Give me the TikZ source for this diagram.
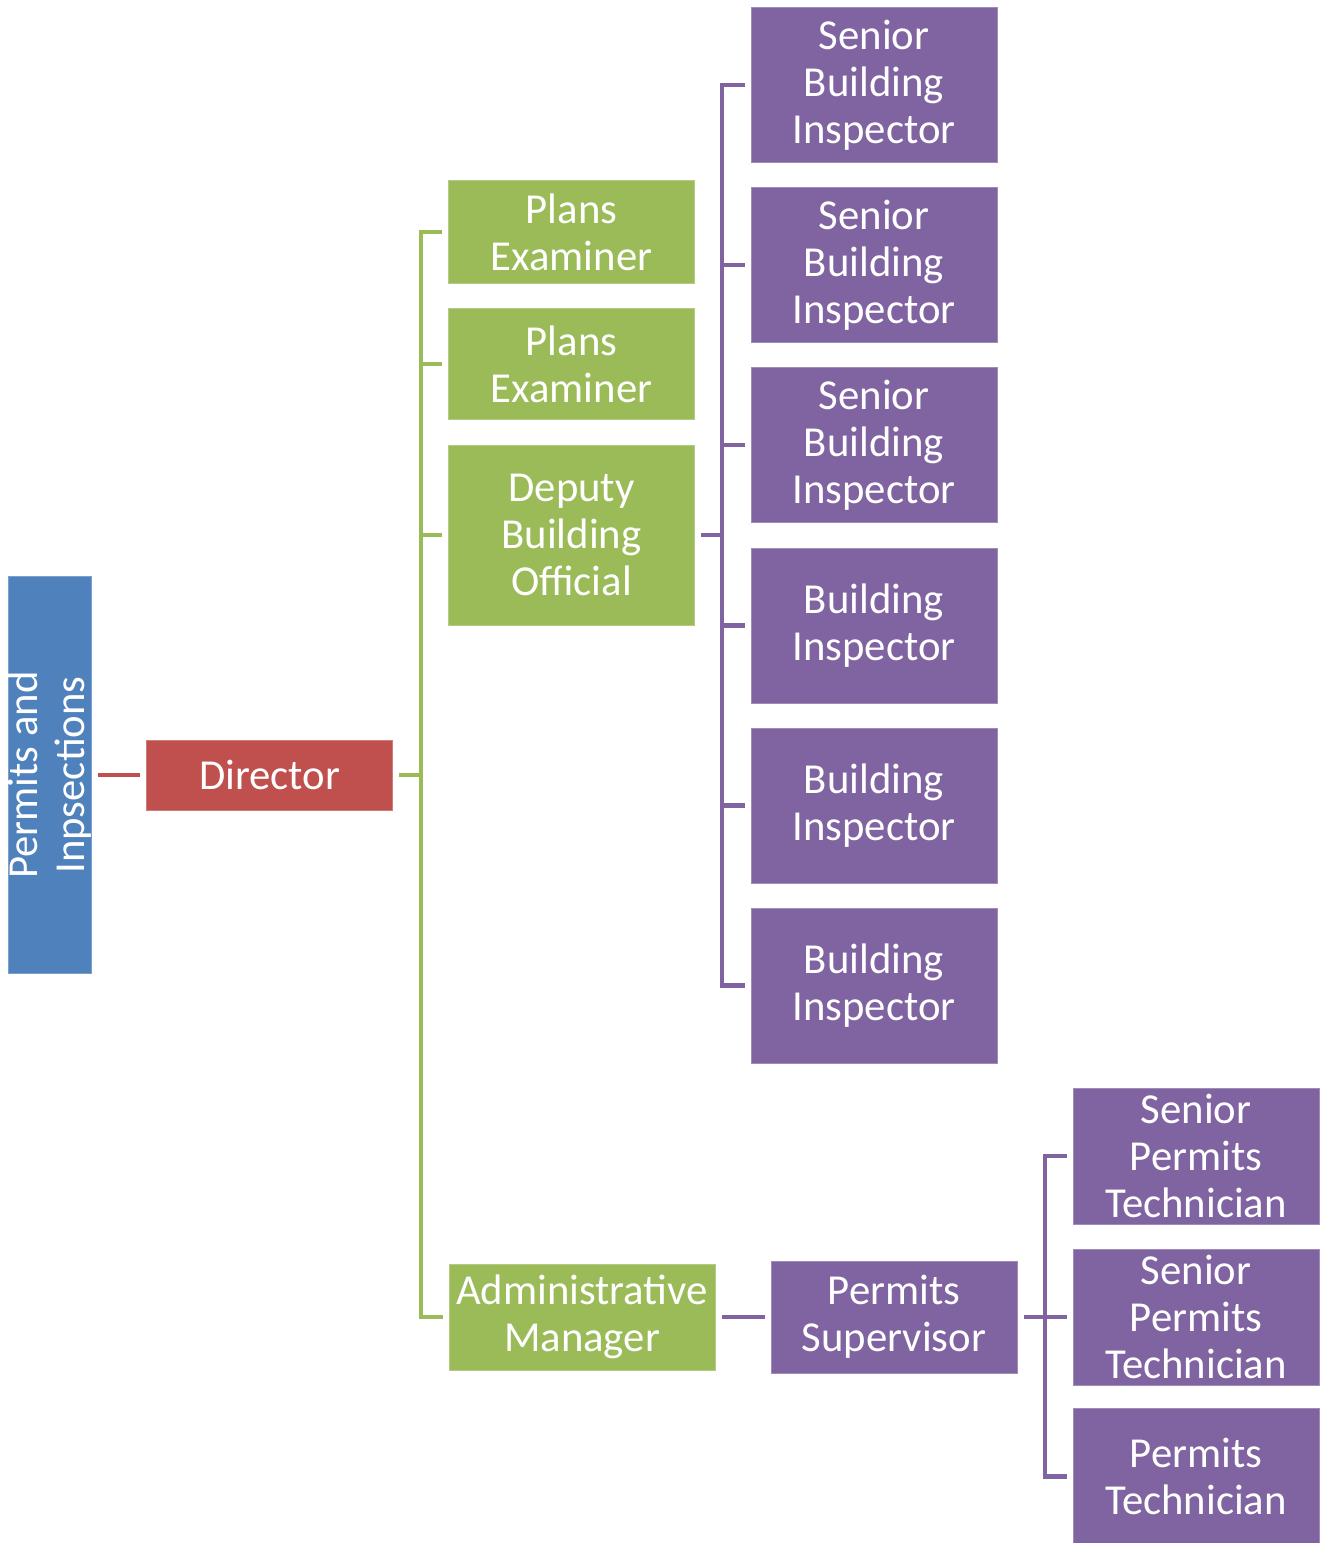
\documentclass[tikz,border=0pt]{standalone}
\usepackage{fontspec}
\setmainfont{Carlito}
\definecolor{cblue}{HTML}{4F81BD}
\definecolor{cred}{HTML}{C0504D}
\definecolor{cgreen}{HTML}{9BBB59}
\definecolor{cpurple}{HTML}{8064A2}
\begin{document}
\begin{tikzpicture}[x=1pt,y=-1pt,
  box/.style={draw=#1!75!white, line width=1pt, fill=#1, text=white, inner sep=0pt, align=center,
    font=\fontsize{42.7}{47}\selectfont},
  conn/.style={draw=#1, line width=4.6pt},
]
\useasboundingbox (0,0) rectangle (1325,1543);
% nodes
\node[box=cblue, rotate=90, minimum width=397pt, minimum height=80pt] (pi) at (50,775) {Permits and\\Inpsections};
\node[box=cred, minimum width=246pt, minimum height=70pt] (dir) at (269.5,775) {Director};
\node[box=cgreen, minimum width=246pt, minimum height=103pt] (pe1) at (571.5,232) {Plans\\Examiner};
\node[box=cgreen, minimum width=246pt, minimum height=111pt] (pe2) at (571.5,364) {Plans\\Examiner};
\node[box=cgreen, minimum width=246pt, minimum height=180pt] (dep) at (571.5,535) {Deputy\\Building\\Official};
\node[box=cgreen, minimum width=266pt, minimum height=106pt] (adm) at (582,1317) {Administrative\\Manager};
\node[box=cpurple, minimum width=246pt, minimum height=155pt] (b1) at (874,85) {Senior\\Building\\Inspector};
\node[box=cpurple, minimum width=246pt, minimum height=155pt] (b2) at (874,265) {Senior\\Building\\Inspector};
\node[box=cpurple, minimum width=246pt, minimum height=155pt] (b3) at (874,445) {Senior\\Building\\Inspector};
\node[box=cpurple, minimum width=246pt, minimum height=155pt] (b4) at (874,625.5) {Building\\Inspector};
\node[box=cpurple, minimum width=246pt, minimum height=155pt] (b5) at (874,805.5) {Building\\Inspector};
\node[box=cpurple, minimum width=246pt, minimum height=155pt] (b6) at (874,985.5) {Building\\Inspector};
\node[box=cpurple, minimum width=246pt, minimum height=112pt] (sup) at (894,1317) {Permits\\Supervisor};
\node[box=cpurple, minimum width=246pt, minimum height=136pt] (t1) at (1196,1156) {Senior\\Permits\\Technician};
\node[box=cpurple, minimum width=246pt, minimum height=136pt] (t2) at (1196,1317) {Senior\\Permits\\Technician};
\node[box=cpurple, minimum width=246pt, minimum height=136pt] (t3) at (1196,1476.5) {Permits\\Technician};
% bus coordinates
\coordinate (gbus) at (421,775);
\coordinate (pbus) at (722,535);
\coordinate (tbus) at (1045,1317);
% connectors
\draw[conn=cred] ([xshift=6pt]pi.south) -- ([xshift=-6pt]dir.west);
\draw[conn=cgreen] ([xshift=6pt]dir.east) -- (gbus);
\draw[conn=cgreen] ([xshift=-6pt]pe1.west) -- (pe1.west -| gbus) -- (adm.west -| gbus) -- ([xshift=-6pt]adm.west);
\draw[conn=cgreen] (pe2.west -| gbus) -- ([xshift=-6pt]pe2.west);
\draw[conn=cgreen] (dep.west -| gbus) -- ([xshift=-6pt]dep.west);
\draw[conn=cpurple] ([xshift=6pt]dep.east) -- (pbus);
\draw[conn=cpurple] ([xshift=-6pt]b1.west) -- (b1.west -| pbus) -- (b6.west -| pbus) -- ([xshift=-6pt]b6.west);
\foreach \n in {b2,b3,b4,b5} \draw[conn=cpurple] (\n.west -| pbus) -- ([xshift=-6pt]\n.west);
\draw[conn=cpurple] ([xshift=6pt]adm.east) -- ([xshift=-6pt]sup.west);
\draw[conn=cpurple] ([xshift=6pt]sup.east) -- (tbus);
\draw[conn=cpurple] ([xshift=-6pt]t1.west) -- (t1.west -| tbus) -- (t3.west -| tbus) -- ([xshift=-6pt]t3.west);
\draw[conn=cpurple] (t2.west -| tbus) -- ([xshift=-6pt]t2.west);
\end{tikzpicture}
\end{document}
